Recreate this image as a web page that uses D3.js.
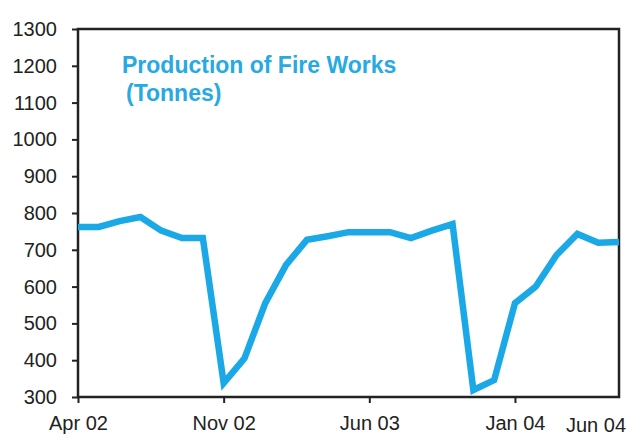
<!DOCTYPE html>
<html>
<head>
<meta charset="utf-8">
<script src="https://d3js.org/d3.v7.min.js"></script>
<style>
  body { margin: 0; background: #fff; }
  svg { display: block; font-family: "Liberation Sans", Arial, sans-serif; }
</style>
</head>
<body>
<div id="chart"></div>
<script>
// monthly production, Apr 02 .. Jun 04
var months = ["Apr 02","May 02","Jun 02","Jul 02","Aug 02","Sep 02","Oct 02","Nov 02","Dec 02",
  "Jan 03","Feb 03","Mar 03","Apr 03","May 03","Jun 03","Jul 03","Aug 03","Sep 03","Oct 03",
  "Nov 03","Dec 03","Jan 04","Feb 04","Mar 04","Apr 04","May 04","Jun 04"];
var production = [762, 762, 778, 789, 752, 732, 732, 338, 405, 555, 659, 727, 737, 748, 748, 748,
  732, 752, 770, 319, 346, 555, 600, 686, 743, 719, 721];
var xTickLabels = ["Apr 02", "Nov 02", "Jun 03", "Jan 04"];
var yTicks = [300, 400, 500, 600, 700, 800, 900, 1000, 1100, 1200, 1300];

var W = 632, H = 437;
var margin = { top: 29, right: 13, bottom: 40, left: 78 },
  width = W - margin.left - margin.right,
  height = H - margin.top - margin.bottom;

var svg = d3.select("#chart").append("svg")
  .attr("width", W).attr("height", H);
var g = svg.append("g")
  .attr("transform", "translate(" + margin.left + "," + margin.top + ")");

var x = d3.scaleLinear().domain([0, months.length - 1]).range([0, width]);
var y = d3.scaleLinear().domain([300, 1300]).range([height, 0]);

// y axis
var yAxis = g.append("g")
  .call(d3.axisLeft(y).tickValues(yTicks).tickSize(6).tickPadding(15).tickFormat(d3.format("d")));
yAxis.select(".domain").remove();
yAxis.selectAll("line").attr("stroke", "#222").attr("stroke-width", 2);
yAxis.selectAll("text").attr("font-size", 20).attr("fill", "#222");

// x axis
var xAxis = g.append("g")
  .attr("transform", "translate(0," + height + ")")
  .call(d3.axisBottom(x)
    .tickValues(xTickLabels.map(function (m) { return months.indexOf(m); }))
    .tickFormat(function (i) { return months[i]; })
    .tickSize(6).tickPadding(13));
xAxis.select(".domain").remove();
xAxis.selectAll("line").attr("stroke", "#222").attr("stroke-width", 2);
xAxis.selectAll("text").attr("font-size", 20).attr("fill", "#222");

// last label sits a little lower, like in the source
g.append("text")
  .attr("x", x(months.length - 1) - 53)
  .attr("y", height + 35)
  .attr("font-size", 20)
  .attr("fill", "#222")
  .text(months[months.length - 1]);

// frame
g.append("rect")
  .attr("x", 0).attr("y", 0)
  .attr("width", width).attr("height", height)
  .attr("fill", "none")
  .attr("stroke", "#222")
  .attr("stroke-width", 2.5);

// the line
var line = d3.line()
  .x(function (d, i) { return x(i); })
  .y(function (d) { return y(d); });

g.append("path")
  .datum(production)
  .attr("d", line)
  .attr("fill", "none")
  .attr("stroke", "#1aa9e6")
  .attr("stroke-width", 6.5)
  .attr("stroke-linejoin", "miter");

// title
var title = g.append("text")
  .attr("fill", "#27a9e1")
  .attr("font-weight", "bold")
  .attr("font-size", 23);
title.append("tspan").attr("x", 44).attr("y", 44).text("Production of Fire Works");
title.append("tspan").attr("x", 48).attr("y", 72).text("(Tonnes)");
</script>
</body>
</html>
